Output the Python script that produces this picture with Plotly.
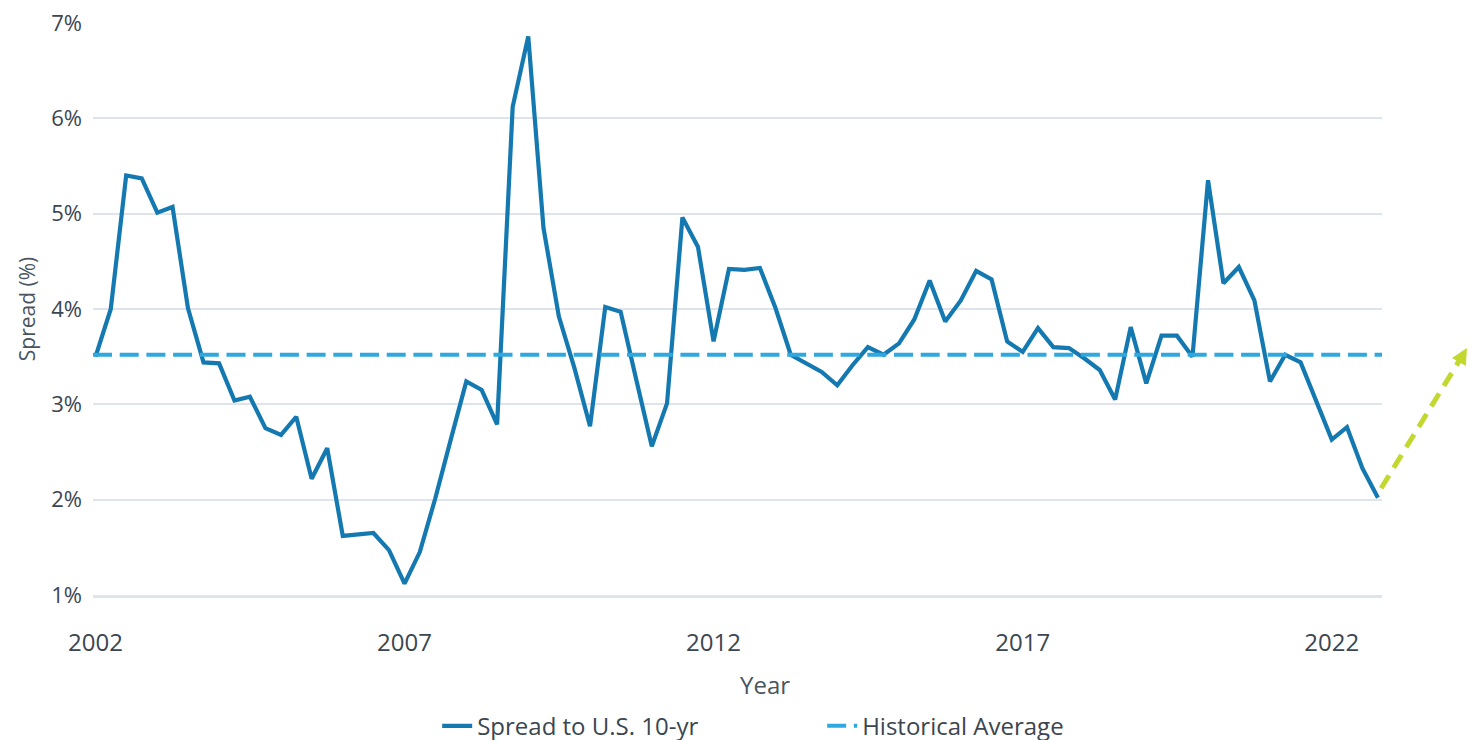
import pandas as pd
import plotly.graph_objects as go

# ---- data ----
quarters = pd.period_range("2002Q1", "2022Q4", freq="Q").to_timestamp()
spread = [
    3.50, 4.00, 5.40, 5.37, 5.01, 5.07, 4.01, 3.44, 3.43, 3.04,
    3.08, 2.75, 2.68, 2.87, 2.22, 2.54, 1.62, 1.63, 1.65, 1.47,
    1.12, 1.45, 2.01, 2.63, 3.24, 3.15, 2.79, 6.12, 6.86, 4.85,
    3.92, 3.38, 2.77, 4.02, 3.97, 3.26, 2.56, 3.01, 4.96, 4.65,
    3.66, 4.42, 4.41, 4.43, 4.01, 3.52, 3.43, 3.34, 3.20, 3.41,
    3.60, 3.52, 3.64, 3.89, 4.30, 3.87, 4.09, 4.40, 4.31, 3.66,
    3.55, 3.80, 3.60, 3.59, 3.48, 3.36, 3.05, 3.81, 3.22, 3.72,
    3.72, 3.50, 5.35, 4.27, 4.44, 4.09, 3.24, 3.52, 3.44, 3.03,
    2.63, 2.76, 2.33, 2.02,
]
historical_average = 3.52
y_ticks = [1, 2, 3, 4, 5, 6, 7]
y_tick_labels = [f"{v}%" for v in y_ticks]
x_tick_years = ["2002", "2007", "2012", "2017", "2022"]
arrow_start = (pd.Timestamp("2022-10-20"), 2.12)
arrow_end = (pd.Timestamp("2024-03-10"), 3.59)

# ---- styling ----
FONT = "'Open Sans', Lato, sans-serif"
TEXT = "#3b4651"
TITLE = "#4a5560"
LINE_BLUE = "#1479b0"
AVG_BLUE = "#2fa8e0"
GREEN = "#c3d82e"
GRID = "#dfe3ec"

x_range = [pd.Timestamp("2001-12-17"), pd.Timestamp("2022-10-25")]
y_range = [1, 7]

fig = go.Figure()
fig.add_trace(go.Scatter(
    x=quarters, y=spread, mode="lines", name="Spread to U.S. 10-yr",
    line=dict(color=LINE_BLUE, width=4.2), hoverinfo="skip",
))
fig.add_trace(go.Scatter(
    x=x_range, y=[historical_average, historical_average], mode="lines",
    name="Historical Average",
    line=dict(color=AVG_BLUE, width=4, dash="19px,7.7px"), hoverinfo="skip",
))


def px(t):
    r0, r1 = x_range
    return (t - r0) / (r1 - r0)


def py(v):
    return (v - y_range[0]) / (y_range[1] - y_range[0])


# dashed green arrow (extends past the plot area)
fig.add_shape(
    type="line", xref="paper", yref="paper",
    x0=px(arrow_start[0]), y0=py(arrow_start[1]),
    x1=px(arrow_end[0]), y1=py(arrow_end[1]),
    line=dict(color=GREEN, width=5, dash="15px,9px"),
)
fig.add_annotation(
    xref="paper", yref="paper", x=px(arrow_end[0]), y=py(arrow_end[1]),
    text="", showarrow=True, arrowhead=2, arrowsize=0.8, arrowwidth=4,
    arrowcolor=GREEN, ax=-10, ay=17.3,
)

fig.update_layout(
    width=1476, height=740,
    margin=dict(l=85, r=102, t=15, b=153, autoexpand=False),
    paper_bgcolor="white", plot_bgcolor="white",
    font=dict(family=FONT, size=22, color=TEXT),
    showlegend=True,
    legend=dict(
        orientation="h", x=0.267, xanchor="left", y=-0.19, yanchor="top",
        font=dict(size=24, color=TEXT), entrywidth=340, entrywidthmode="pixels",
        traceorder="normal",
    ),
    xaxis=dict(
        type="date", range=x_range, automargin=False,
        tickvals=[pd.Timestamp(f"{y}-01-01") for y in x_tick_years],
        ticktext=x_tick_years,
        showgrid=False, showline=True, linecolor=GRID, linewidth=3,
        ticks="", ticklabelstandoff=24, tickfont=dict(size=24, color=TEXT),
        zeroline=False,
    ),
    yaxis=dict(
        range=y_range, tickvals=y_ticks, ticktext=y_tick_labels, automargin=False,
        showgrid=True, gridcolor=GRID, gridwidth=1.5, zeroline=False,
        ticks="", ticklabelstandoff=10, ticklabeloverflow="allow",
        tickfont=dict(size=22, color=TEXT),
        title=dict(text="Spread (%)", font=dict(size=21, color=TITLE), standoff=9),
    ),
)

fig.add_annotation(
    xref="paper", yref="paper", x=0.521, y=-0.1556, yanchor="middle",
    text="Year", showarrow=False, font=dict(size=24, color=TITLE),
)

fig.write_html("out.html")
